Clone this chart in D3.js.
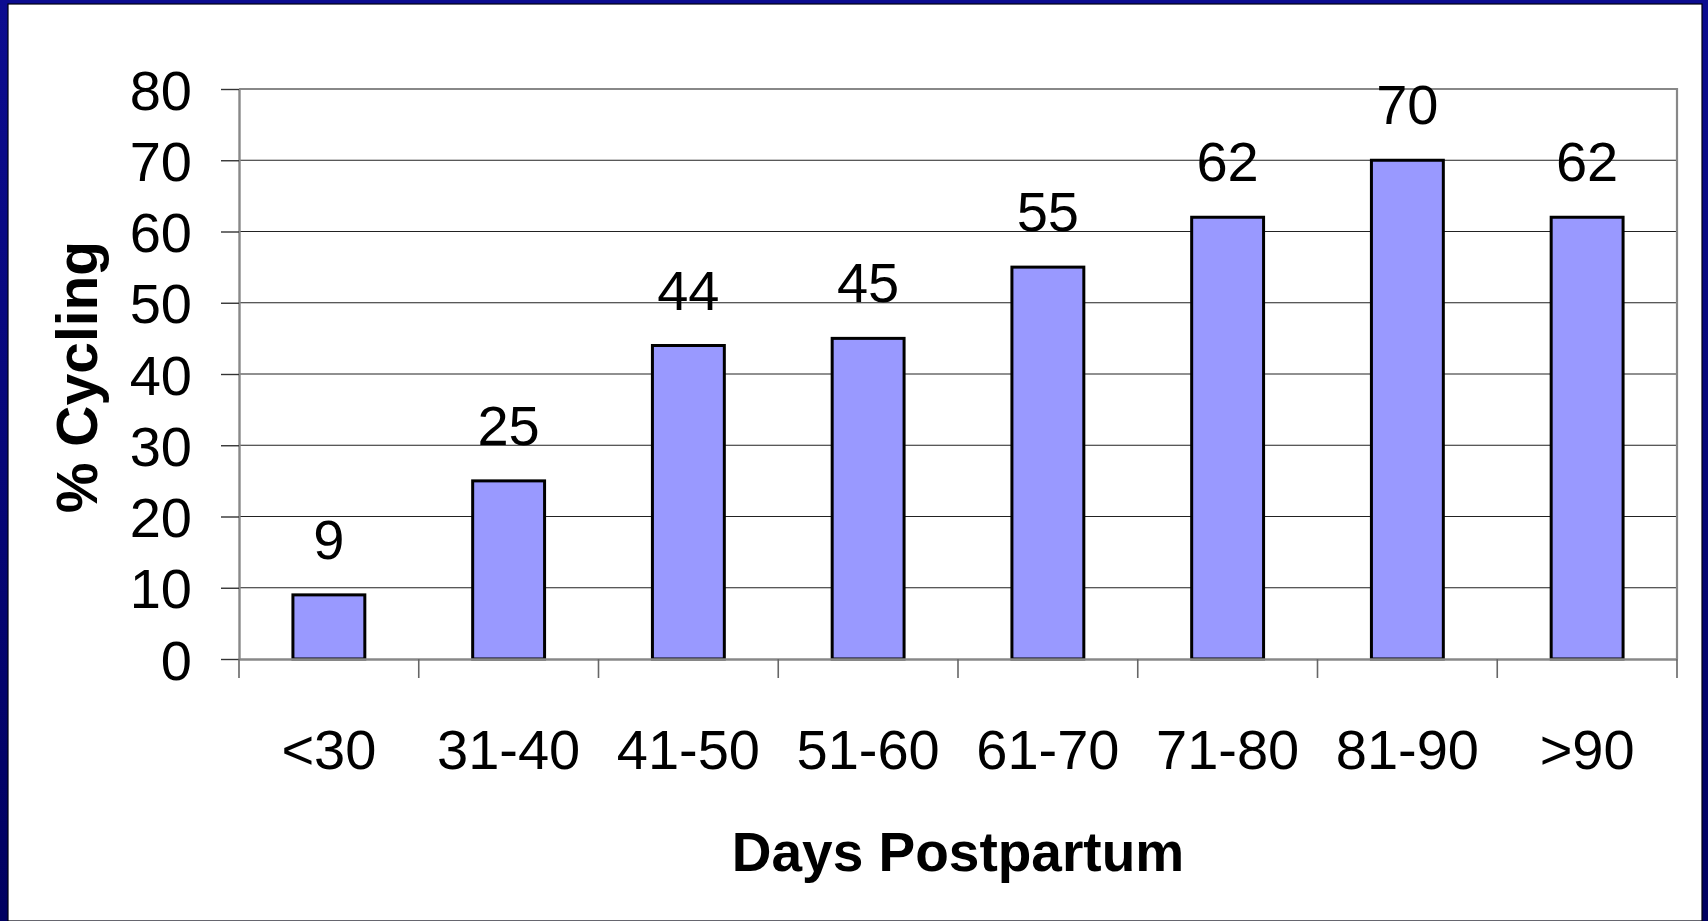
<!DOCTYPE html>
<html>
<head>
<meta charset="utf-8">
<script src="https://cdn.jsdelivr.net/npm/d3@7"></script>
<style>
  html, body { margin: 0; padding: 0; background: #fff; }
  svg { display: block; }
  text { font-family: "Liberation Sans", Arial, sans-serif; fill: #000; }
</style>
</head>
<body>
<svg id="chart" width="1708" height="921"></svg>
<script>
// Share of cows cycling by days postpartum
const categories = ["<30", "31-40", "41-50", "51-60", "61-70", "71-80", "81-90", ">90"];
const cycling = [9, 25, 44, 45, 55, 62, 70, 62];
const yTicks = [0, 10, 20, 30, 40, 50, 60, 70, 80];

const W = 1708, H = 921;
const plot = { left: 239, right: 1677, top: 89, bottom: 659 };

const svg = d3.select("#chart");

// Slide frame: navy border on top, left and right
const defs = svg.append("defs");
const grad = defs.append("linearGradient").attr("id", "navy")
  .attr("x1", 0).attr("y1", 0).attr("x2", 0).attr("y2", 1);
grad.append("stop").attr("offset", "0%").attr("stop-color", "#0c0c90");
grad.append("stop").attr("offset", "100%").attr("stop-color", "#000060");

svg.append("rect").attr("x", 0).attr("y", 0).attr("width", W).attr("height", H).attr("fill", "url(#navy)");
svg.append("rect").attr("x", 8).attr("y", 4).attr("width", 1694).attr("height", H - 4)
  .attr("fill", "#fff").attr("stroke", "#000010").attr("stroke-width", 1.2);

// Scales
const slot = d3.scaleBand().domain(categories).range([plot.left, plot.right]).padding(0);
const x = d3.scaleBand().domain(categories).range([plot.left, plot.right])
  .paddingInner(0.6).paddingOuter(0.3);
const y = d3.scaleLinear().domain([0, 80]).range([plot.bottom, plot.top]);

// Horizontal gridlines
svg.append("g").selectAll("line")
  .data(yTicks.filter(v => v > 0 && v < 80))
  .join("line")
  .attr("x1", plot.left).attr("x2", plot.right)
  .attr("y1", d => y(d)).attr("y2", d => y(d))
  .attr("stroke", "#222").attr("stroke-width", 1.2);

// Plot area border (top and right)
svg.append("path")
  .attr("d", `M${plot.left},${y(80)}H${plot.right}V${plot.bottom}`)
  .attr("fill", "none").attr("stroke", "#888").attr("stroke-width", 2.2);

// Bars
svg.append("g").selectAll("rect")
  .data(cycling)
  .join("rect")
  .attr("x", (d, i) => x(categories[i]))
  .attr("width", x.bandwidth())
  .attr("y", d => y(d))
  .attr("height", d => y(0) - y(d))
  .attr("fill", "#9999ff")
  .attr("stroke", "#000").attr("stroke-width", 3);

// Value labels above bars
svg.append("g").selectAll("text")
  .data(cycling)
  .join("text")
  .attr("x", (d, i) => x(categories[i]) + x.bandwidth() / 2)
  .attr("y", d => y(d) - 36)
  .attr("text-anchor", "middle")
  .attr("font-size", 56)
  .text(d => d);

// Y axis
const yAxis = svg.append("g")
  .attr("transform", `translate(${plot.left},0)`)
  .call(d3.axisLeft(y).tickValues(yTicks).tickSize(18).tickPadding(29).tickSizeOuter(0));
yAxis.select(".domain").attr("stroke", "#888").attr("stroke-width", 2.4);
yAxis.selectAll(".tick line").attr("stroke", "#333").attr("stroke-width", 1.4);
yAxis.selectAll(".tick text")
  .attr("font-size", 56).attr("font-family", "Liberation Sans, Arial, sans-serif")
  .attr("fill", "#000").attr("dy", "0.36em");

// X axis baseline and category separators
const xAxis = svg.append("g")
  .attr("transform", `translate(0,${plot.bottom})`)
  .call(d3.axisBottom(slot).tickSize(0).tickPadding(0).tickSizeOuter(0));
xAxis.select(".domain").attr("stroke", "#888").attr("stroke-width", 2.4);
xAxis.selectAll(".tick text")
  .attr("font-size", 56).attr("font-family", "Liberation Sans, Arial, sans-serif")
  .attr("fill", "#000").attr("y", 110).attr("dy", 0);

const edges = categories.map(c => slot(c)).concat([plot.right]);
svg.append("g").selectAll("line")
  .data(edges)
  .join("line")
  .attr("x1", d => d).attr("x2", d => d)
  .attr("y1", plot.bottom).attr("y2", plot.bottom + 19)
  .attr("stroke", "#666").attr("stroke-width", 1.6);

// Axis titles
svg.append("text")
  .attr("x", (plot.left + plot.right) / 2)
  .attr("y", 871)
  .attr("text-anchor", "middle")
  .attr("font-size", 55).attr("font-weight", "bold")
  .text("Days Postpartum");

svg.append("text")
  .attr("transform", "translate(97,377) rotate(-90)")
  .attr("text-anchor", "middle")
  .attr("font-size", 57).attr("font-weight", "bold")
  .text("% Cycling");
</script>
</body>
</html>
